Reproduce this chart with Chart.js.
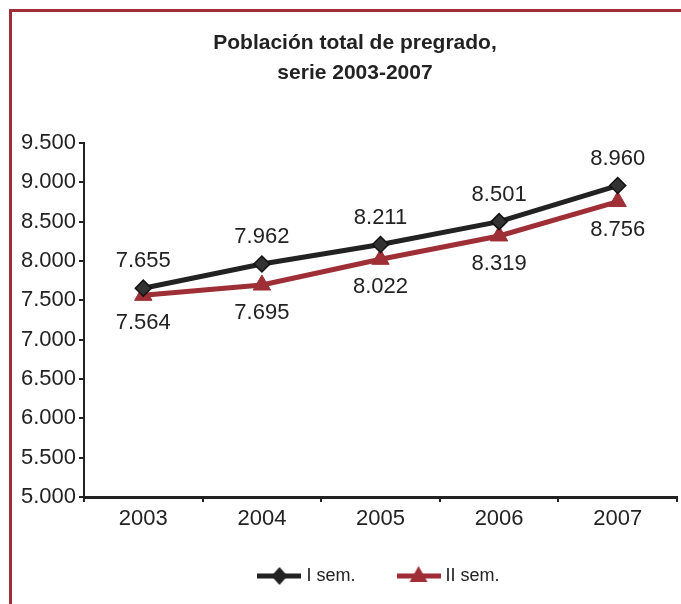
<!DOCTYPE html>
<html>
<head>
<meta charset="utf-8">
<script src="https://cdn.jsdelivr.net/npm/chart.js@4.4.1/dist/chart.umd.min.js"></script>
<style>
    html, body { margin: 0; padding: 0; background: #fff; overflow: hidden; }
    #wrap { position: relative; width: 681px; height: 604px; }
    #frame { position: absolute; left: 9px; top: 9px; width: 700px; height: 700px;
             border-top: 3px solid #9e2f36; border-left: 3px solid #9e2f36; pointer-events: none; }
    canvas { display: block; }
</style>
</head>
<body>
<div id="wrap">
    <canvas id="chart" width="681" height="604"></canvas>
    <div id="frame"></div>
</div>
<script>
'use strict';

const years = ['2003', '2004', '2005', '2006', '2007'];
const semI = [7655, 7962, 8211, 8501, 8960];
const semII = [7564, 7695, 8022, 8319, 8756];
const seriesNames = ['I sem.', 'II sem.'];
const titleLines = ['Población total de pregrado,', 'serie 2003-2007'];

const FONT = "'Liberation Sans', Arial, sans-serif";
const BLACK = '#222222';
const RED = '#9e2f36';

const fmt = (v) => String(v).replace(/\B(?=(\d{3})+$)/g, '.');

// small picture of line + marker for the legend
function legendIcon(color, style) {
    const c = document.createElement('canvas');
    c.width = 44; c.height = 22;
    const ctx = c.getContext('2d');
    ctx.strokeStyle = color;
    ctx.lineWidth = 5;
    ctx.beginPath(); ctx.moveTo(0, 11); ctx.lineTo(44, 11); ctx.stroke();
    ctx.fillStyle = color;
    ctx.beginPath();
    if (style === 'diamond') {
        ctx.moveTo(22, 2); ctx.lineTo(30, 11); ctx.lineTo(22, 20); ctx.lineTo(14, 11);
    } else {
        ctx.moveTo(22, 1); ctx.lineTo(31, 17); ctx.lineTo(13, 17);
    }
    ctx.closePath(); ctx.fill();
    return c;
}

const labelOffsets = [-27, 28];

const valueLabels = {
    id: 'valueLabels',
    afterLayout(chart) {
        // title sits a bit right of the canvas centre in the original
        chart.titleBlock.left += 13;
    },
    afterDatasetsDraw(chart) {
        const ctx = chart.ctx;
        ctx.save();
        ctx.font = '22px ' + FONT;
        ctx.fillStyle = BLACK;
        ctx.textAlign = 'center';
        ctx.textBaseline = 'middle';
        chart.data.datasets.forEach((ds, i) => {
            chart.getDatasetMeta(i).data.forEach((pt, j) => {
                ctx.fillText(fmt(ds.data[j]), pt.x, pt.y + labelOffsets[i]);
            });
        });
        ctx.restore();
    }
};

const icons = [legendIcon(BLACK, 'diamond'), legendIcon(RED, 'triangle')];

new Chart(document.getElementById('chart'), {
    type: 'line',
    data: {
        labels: years,
        datasets: [{
            label: seriesNames[0],
            data: semI,
            borderColor: BLACK,
            borderWidth: 5,
            pointStyle: 'rectRot',
            pointRadius: 8,
            pointBackgroundColor: '#333333',
            pointBorderColor: '#111111',
            pointBorderWidth: 1.5
        }, {
            label: seriesNames[1],
            data: semII,
            borderColor: RED,
            borderWidth: 5,
            pointStyle: 'triangle',
            pointRadius: 10,
            pointBackgroundColor: RED,
            pointBorderColor: RED,
            pointBorderWidth: 1
        }]
    },
    plugins: [valueLabels],
    options: {
        responsive: false,
        animation: false,
        layout: { autoPadding: false, padding: { left: 20, right: 4, top: 0, bottom: 9 } },
        plugins: {
            tooltip: { enabled: false },
            title: {
                display: true,
                text: titleLines,
                color: BLACK,
                font: { family: FONT, size: 21, weight: 'bold', lineHeight: 1.43 },
                padding: { top: 28, bottom: 55 }
            },
            legend: {
                position: 'bottom',
                fullSize: false,
                labels: {
                    color: BLACK,
                    font: { family: FONT, size: 18 },
                    usePointStyle: true,
                    pointStyleWidth: 36,
                    padding: 30,
                    // extra spaces widen the gap between the two entries
                    generateLabels: (chart) => chart.data.datasets.map((ds, i) => ({
                        text: i === 0 ? ds.label + '   ' : ds.label,
                        pointStyle: icons[i],
                        fontColor: BLACK,
                        datasetIndex: i,
                        hidden: false
                    }))
                }
            }
        },
        scales: {
            x: {
                offset: true,
                grid: { offset: true, drawOnChartArea: false, tickLength: 5, color: BLACK, lineWidth: 2 },
                border: { color: BLACK, width: 3 },
                ticks: { color: BLACK, font: { family: FONT, size: 22 }, padding: 4 },
                afterFit: (scale) => { scale.height = 40; }
            },
            y: {
                min: 5000,
                max: 9500,
                grid: { drawOnChartArea: false, tickLength: 5, color: BLACK, lineWidth: 2 },
                border: { color: BLACK, width: 2 },
                ticks: {
                    stepSize: 500,
                    color: BLACK,
                    padding: 3,
                    font: { family: FONT, size: 22 },
                    callback: (v) => fmt(v)
                },
                afterFit: (scale) => { scale.width = 64; }
            }
        }
    }
});
</script>
</body>
</html>
